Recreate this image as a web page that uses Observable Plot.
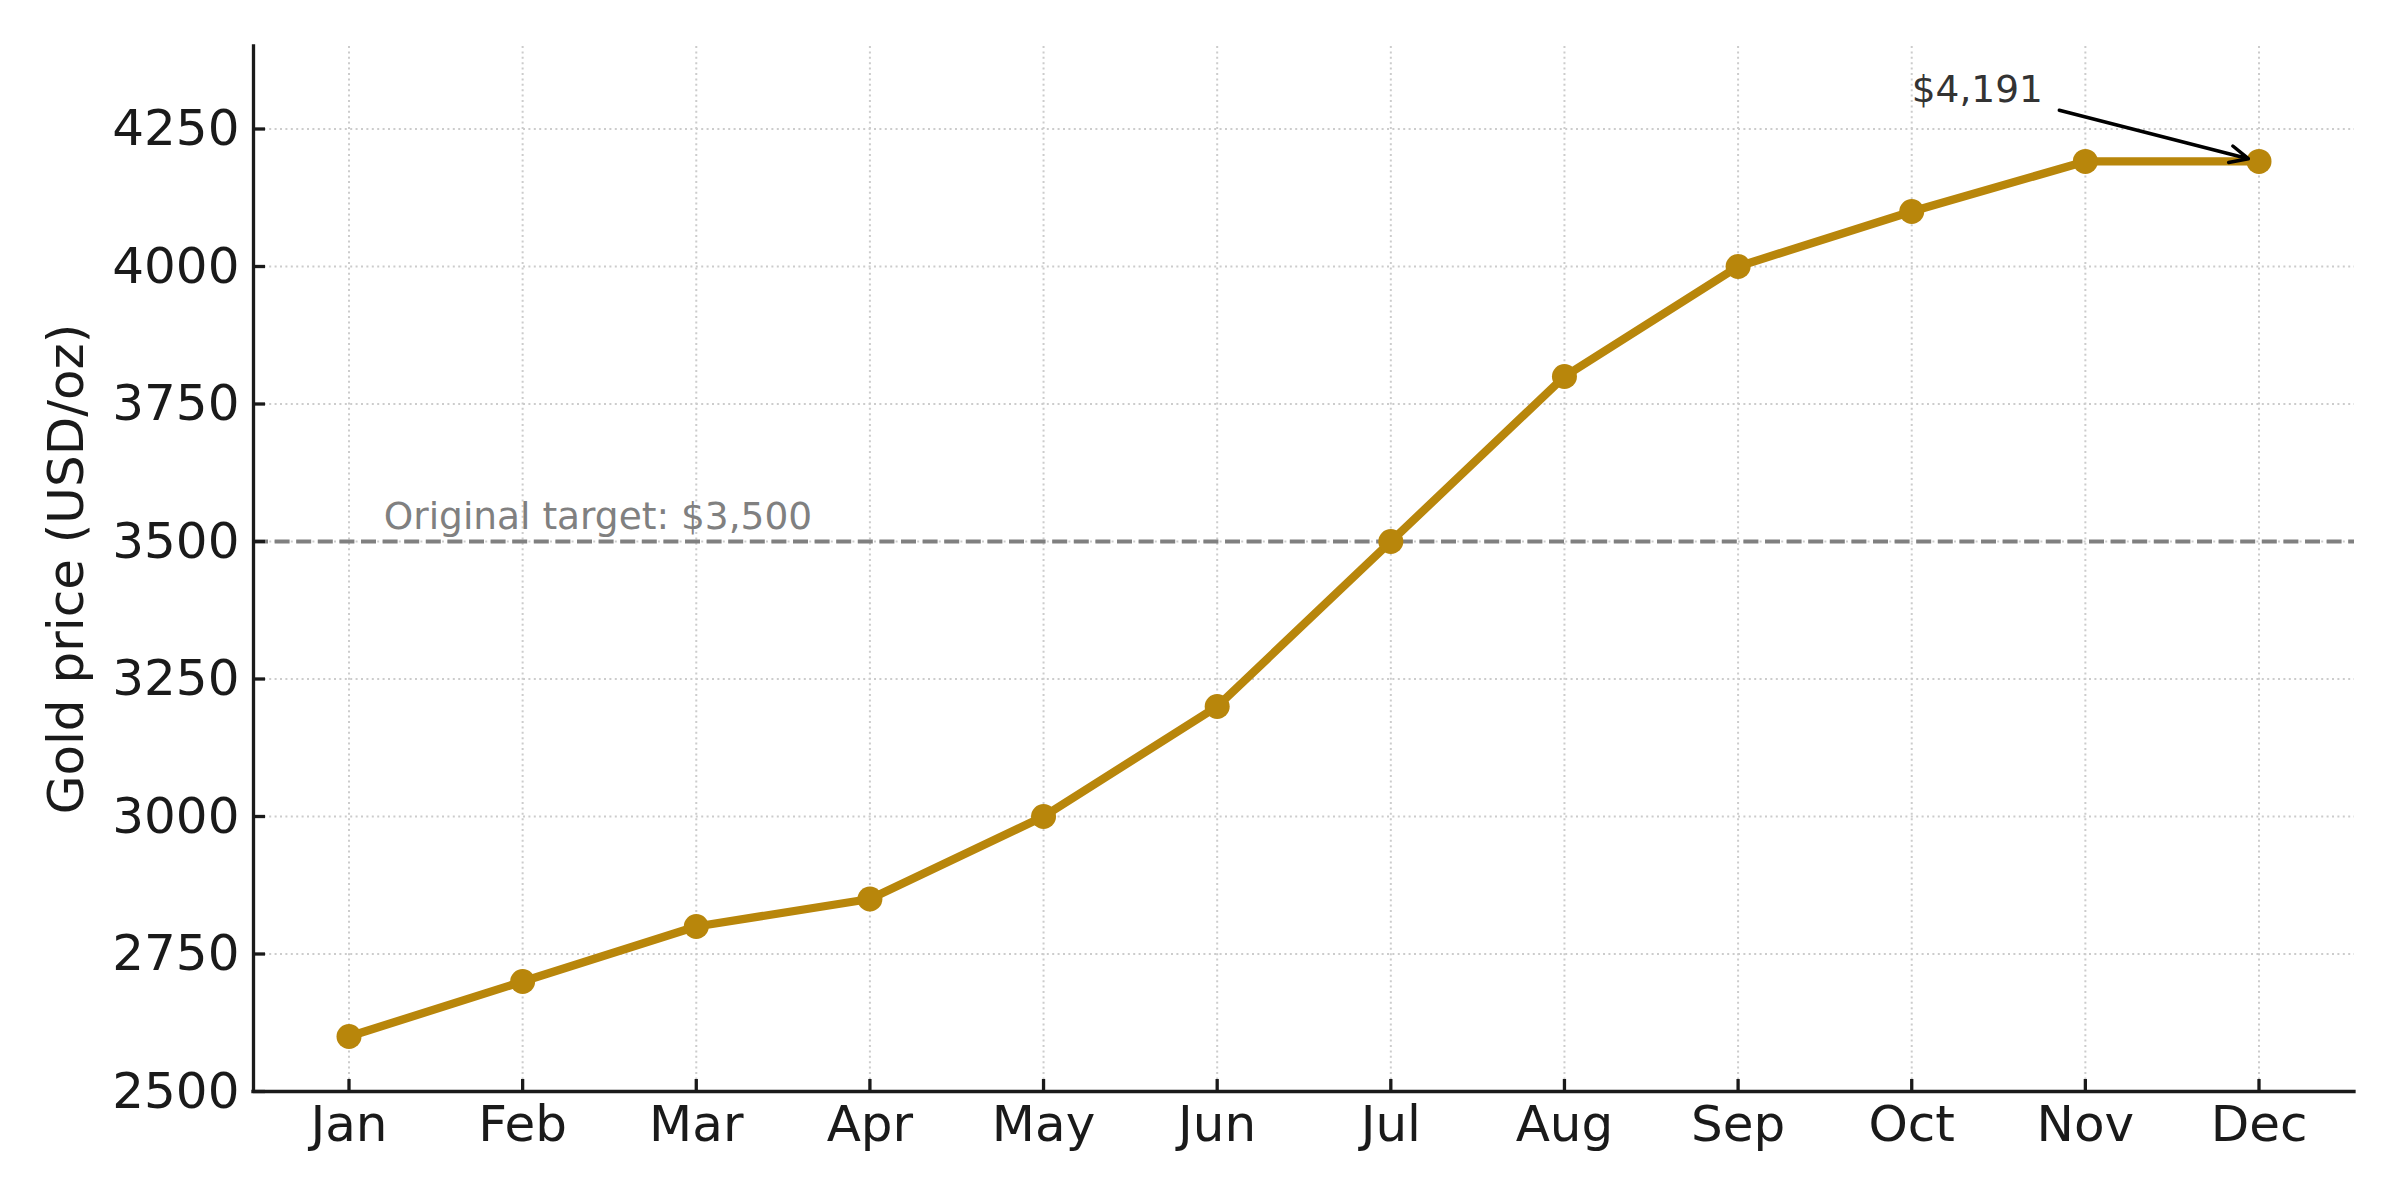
<!DOCTYPE html>
<html><head><meta charset="utf-8">
<script src="https://cdn.jsdelivr.net/npm/d3@7"></script>
<script src="https://cdn.jsdelivr.net/npm/@observablehq/plot@0.6"></script>
<style>
html,body{margin:0;padding:0;background:#fff;}
</style></head><body><div id="chart"></div>
<script>
// ---- data ----
const months = ["Jan","Feb","Mar","Apr","May","Jun","Jul","Aug","Sep","Oct","Nov","Dec"];
const prices = [2600, 2700, 2800, 2850, 3000, 3200, 3500, 3800, 4000, 4100, 4191, 4191];
const yTicks = [2500, 2750, 3000, 3250, 3500, 3750, 4000, 4250];
const yLimits = [2500, 4400];
const yLabel = "Gold price (USD/oz)";
const targetValue = [3500];
const targetLabel = ["Original target: $3,500"];
const targetLabelAt = [0.2, 3500];      // [month index, price]
const peakLabel = ["$4,191"];
const peakLabelAt = [9, 4300];          // [month index, price]
const peakArrowFrom = [9.85, 4284];     // [month index, price]

// ---- build ----
const monthIdx = months.map((_, i) => i);
const data = months.map((m, i) => ({i, month: m, price: prices[i]}));
const pad = 0.55;
const xDomain = [-pad, months.length - 1 + pad];
const gold = "#B8860B";
const ink = "#1a1a1a";
const gridStyle = {stroke: "#cccccc", strokeOpacity: 1, strokeWidth: 2, strokeDasharray: "2,3.4"};
const last = data.length - 1;

const chart = Plot.plot({
  width: 2400, height: 1200,
  marginLeft: 253, marginRight: 46, marginTop: 46, marginBottom: 109,
  style: {fontFamily: "DejaVu Sans", fontSize: "50px", color: ink, background: "white", overflow: "visible"},
  x: {type: "linear", domain: xDomain},
  y: {domain: yLimits},
  marks: [
    Plot.gridX(monthIdx, gridStyle),
    Plot.gridY(yTicks, gridStyle),
    Plot.ruleY(targetValue, {stroke: "#808080", strokeWidth: 4, strokeDasharray: "15,6.6"}),
    Plot.text([{x: targetLabelAt[0], y: targetLabelAt[1], t: targetLabel[0]}],
      {x: "x", y: "y", text: "t", textAnchor: "start", lineAnchor: "bottom", dy: -13,
       fill: "#808080", fontSize: 37.5}),
    Plot.line(data, {x: "i", y: "price", stroke: gold, strokeWidth: 8.3, strokeLinejoin: "round"}),
    Plot.dot(data, {x: "i", y: "price", r: 12.5, fill: gold, stroke: null}),
    Plot.text([{x: peakLabelAt[0], y: peakLabelAt[1], t: peakLabel[0]}],
      {x: "x", y: "y", text: "t", textAnchor: "start", lineAnchor: "bottom",
       fill: "#333333", fontSize: 37.5}),
    Plot.arrow([{x1: peakArrowFrom[0], y1: peakArrowFrom[1], x2: data[last].i, y2: data[last].price}],
      {x1: "x1", y1: "y1", x2: "x2", y2: "y2", stroke: "black", strokeWidth: 3.5,
       headLength: 8.6, headAngle: 50, insetEnd: 11}),
    // axes: labels
    Plot.axisX(monthIdx, {tickSize: 0, tickPadding: 14, tickFormat: i => months[i], label: null, fill: ink}),
    Plot.axisY(yTicks, {tickSize: 0, tickPadding: 14, tickFormat: d => String(d), label: yLabel, labelAnchor: "center", labelOffset: 206, labelArrow: "none", fill: ink}),
    // axes: inward ticks
    Plot.axisX(monthIdx, {tickSize: 12, dy: -12, tickFormat: () => "", label: null, stroke: ink, strokeWidth: 3.3}),
    Plot.axisY(yTicks, {tickSize: 12, dx: 12, tickFormat: () => "", label: null, stroke: ink, strokeWidth: 3.3}),
    // spines
    Plot.ruleX([xDomain[0]], {stroke: ink, strokeWidth: 3.3, strokeLinecap: "square"}),
    Plot.ruleY([yLimits[0]], {stroke: ink, strokeWidth: 3.3, strokeLinecap: "square"})
  ]
});
document.getElementById("chart").appendChild(chart);
</script>
</body></html>
